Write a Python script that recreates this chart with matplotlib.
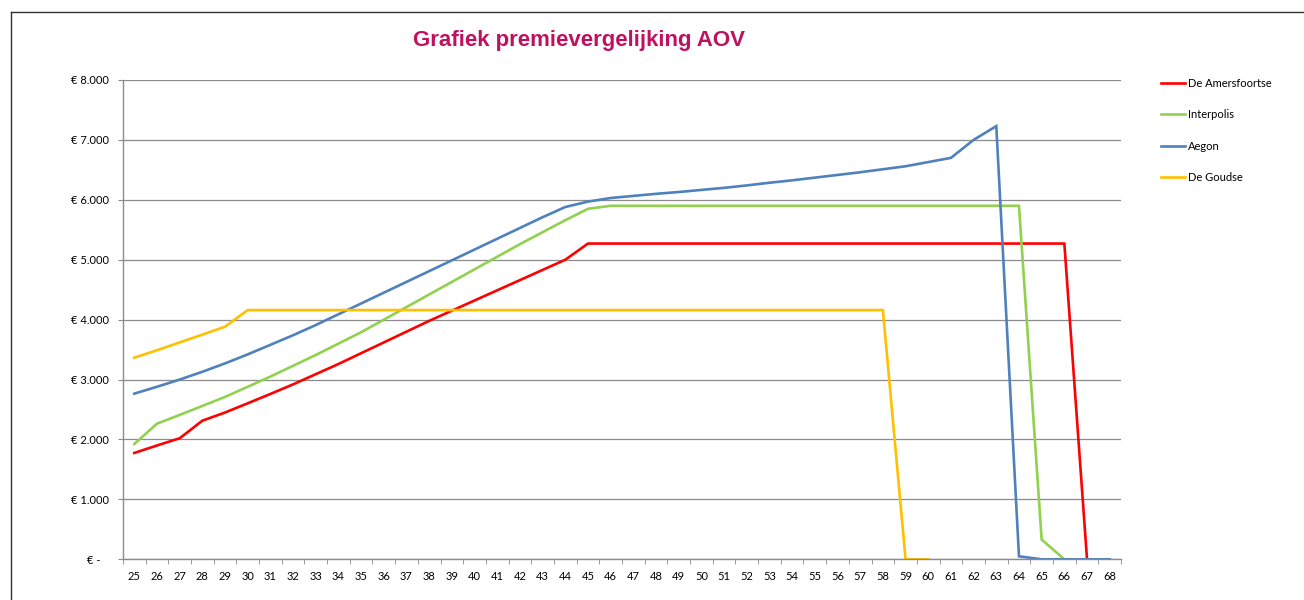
import numpy as np
import matplotlib
matplotlib.use('Agg')
import matplotlib.pyplot as plt
from matplotlib.lines import Line2D

# leeftijden 25 t/m 68
ages = list(range(25, 69))

amersfoortse = [1775, 1900, 2020, 2314, 2450, 2604, 2760, 2920, 3090, 3260,
                3440, 3620, 3800, 3980, 4150, 4320, 4490, 4660, 4830, 5000,
                5270, 5270, 5270, 5270, 5270, 5270, 5270, 5270, 5270, 5270,
                5270, 5270, 5270, 5270, 5270, 5270, 5270, 5270, 5270, 5270,
                5270, 5270, 0, 0]
interpolis = [1925, 2264, 2410, 2560, 2710, 2880, 3050, 3230, 3410, 3600,
              3790, 4000, 4210, 4420, 4630, 4840, 5050, 5260, 5460, 5660,
              5850, 5900, 5900, 5900, 5900, 5900, 5900, 5900, 5900, 5900,
              5900, 5900, 5900, 5900, 5900, 5900, 5900, 5900, 5900, 5900,
              330, 0, 0, 0]
aegon = [2765, 2880, 3000, 3130, 3270, 3420, 3580, 3740, 3910, 4090,
         4270, 4450, 4630, 4810, 4990, 5170, 5350, 5530, 5710, 5880,
         5970, 6030, 6065, 6100, 6130, 6165, 6200, 6240, 6285, 6325,
         6370, 6415, 6460, 6510, 6560, 6630, 6700, 7000, 7230, 50,
         0, 0, 0, 0]
goudse = [3366, 3490, 3620, 3750, 3883, 4160, 4160, 4160, 4160, 4160,
          4160, 4160, 4160, 4160, 4160, 4160, 4160, 4160, 4160, 4160,
          4160, 4160, 4160, 4160, 4160, 4160, 4160, 4160, 4160, 4160,
          4160, 4160, 4160, 4160, 0, 0, np.nan, np.nan, np.nan, np.nan,
          np.nan, np.nan, np.nan, np.nan]

series = [('De Amersfoortse', amersfoortse, '#FF0000'),
          ('Interpolis', interpolis, '#92D050'),
          ('Aegon', aegon, '#4F81BD'),
          ('De Goudse', goudse, '#FFC000')]

y_ticks = [0, 1000, 2000, 3000, 4000, 5000, 6000, 7000, 8000]
y_labels = ['€ -   ', '€ 1.000', '€ 2.000', '€ 3.000', '€ 4.000',
            '€ 5.000', '€ 6.000', '€ 7.000', '€ 8.000']

plt.rcParams['font.family'] = ['Lato', 'DejaVu Sans']

fig = plt.figure(figsize=(13.04, 6.0), dpi=100)
ax = fig.add_axes([0.0943, 0.0678, 0.7654, 0.7989])

x = np.arange(len(ages))
for name, vals, col in series:
    ax.plot(x, vals, color=col, lw=1.9, label=name, solid_joinstyle='miter')

ax.set_xlim(-0.5, len(ages) - 0.5)
ax.set_ylim(0, 8000)
ax.set_yticks(y_ticks)
ax.set_yticklabels(y_labels)
ax.yaxis.grid(True, color='#8C8C8C', lw=0.9)
ax.set_axisbelow(True)

# x-labels in het midden, streepjes tussen de categorieen
ax.set_xticks(x)
ax.set_xticklabels([str(a) for a in ages])
ax.tick_params(axis='x', length=0, pad=8.5, labelsize=8)
ax.set_xticks(np.arange(len(ages) + 1) - 0.5, minor=True)
ax.tick_params(axis='x', which='minor', length=3.6, color='#8C8C8C', direction='out')
ax.tick_params(axis='y', length=3.6, color='#8C8C8C', labelsize=8, pad=6.5)

for s in ['top', 'right']:
    ax.spines[s].set_visible(False)
for s in ['left', 'bottom']:
    ax.spines[s].set_color('#8C8C8C')
    ax.spines[s].set_linewidth(1.0)

ax.legend(loc='upper left', bbox_to_anchor=(1.030, 1.026), frameon=False,
          fontsize=8, handlelength=2.2, handletextpad=0.25, labelspacing=1.85)

fig.text(0.444, 0.932, 'Grafiek premievergelijking AOV', ha='center', va='center',
         color='#C0105F', fontsize=16, fontweight='bold', family='Liberation Sans')

# rand van het diagram
fig.add_artist(Line2D([11 / 1304, 11 / 1304], [0, 1 - 12 / 600], color='#333333', lw=1.0))
fig.add_artist(Line2D([11 / 1304, 1], [1 - 12 / 600, 1 - 12 / 600], color='#333333', lw=1.0))

plt.savefig('out.png', dpi=100)
